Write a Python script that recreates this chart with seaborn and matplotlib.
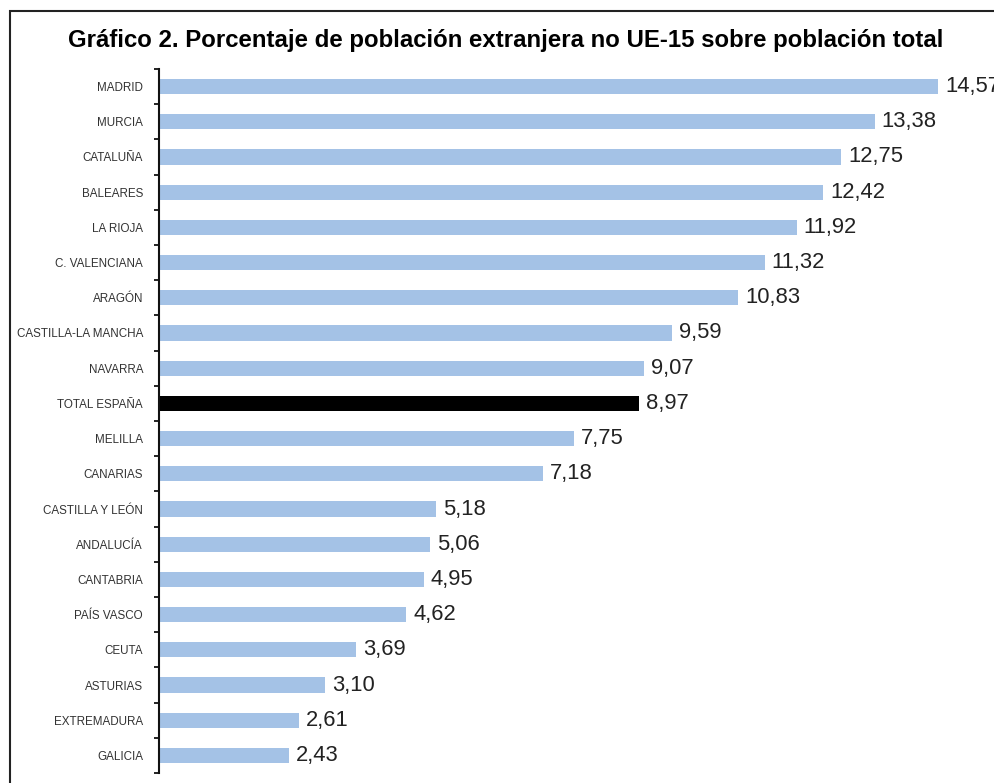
import matplotlib
matplotlib.use("Agg")
import matplotlib.pyplot as plt
import seaborn as sns
import pandas as pd
from matplotlib.patches import Rectangle
from matplotlib.ticker import FixedLocator

categories = ["MADRID", "MURCIA", "CATALUÑA", "BALEARES", "LA RIOJA",
              "C. VALENCIANA", "ARAGÓN", "CASTILLA-LA MANCHA", "NAVARRA",
              "TOTAL ESPAÑA", "MELILLA", "CANARIAS", "CASTILLA Y LEÓN",
              "ANDALUCÍA", "CANTABRIA", "PAÍS VASCO", "CEUTA", "ASTURIAS",
              "EXTREMADURA", "GALICIA"]
values = [14.57, 13.38, 12.75, 12.42, 11.92, 11.32, 10.83, 9.59, 9.07,
          8.97, 7.75, 7.18, 5.18, 5.06, 4.95, 4.62, 3.69, 3.10, 2.61, 2.43]
highlight = "TOTAL ESPAÑA"
title = "Gráfico 2. Porcentaje de población extranjera no UE-15 sobre población total"

sns.set_theme(style="white")
plt.rcParams['font.family'] = ['Liberation Sans', 'DejaVu Sans']

df = pd.DataFrame({"region": categories, "valor": values})
palette = {c: ("#000000" if c == highlight else "#a4c2e6") for c in categories}

W, H = 995, 783
fig = plt.figure(figsize=(W / 100, H / 100), dpi=100)
ax = fig.add_axes([159 / W, (H - 773) / H, (W - 159) / W, 704 / H])

sns.barplot(data=df, y="region", x="valor", hue="region", palette=palette,
            order=categories, orient="h", width=0.43, legend=False, ax=ax,
            saturation=1, linewidth=0)

ax.set_xlim(0, (W - 159) / 53.5)
ax.set_ylim(len(categories) - 0.5, -0.5)
ax.set_xlabel("")
ax.set_ylabel("")
ax.set_xticks([])
for s in ["top", "right", "bottom"]:
    ax.spines[s].set_visible(False)
ax.spines["left"].set_linewidth(1.5)
ax.spines["left"].set_color("#111111")

ax.tick_params(axis="y", which="major", length=0, pad=11.5, labelsize=8.4,
               labelcolor="#333333")
ax.yaxis.set_minor_locator(FixedLocator([i - 0.5 for i in range(len(categories) + 1)]))
ax.tick_params(axis="y", which="minor", length=3.5, width=1.3, color="#111111",
               direction="out", left=True)

for i, v in enumerate(values):
    ax.text(v + 0.13, i, f"{v:.2f}".replace(".", ","), va="center", ha="left",
            fontsize=15.8, color="#222222", clip_on=False)

fig.text(506 / W, 1 - 40 / H, title, ha="center", va="center",
         fontsize=17.3, fontweight="bold", color="#000000")

fig.patches.append(Rectangle((10 / W, -0.1), 1.2, 1 - 11.5 / H + 0.1,
                             transform=fig.transFigure, fill=False,
                             edgecolor="#222222", linewidth=1.5))

fig.savefig("out.png", dpi=100)
